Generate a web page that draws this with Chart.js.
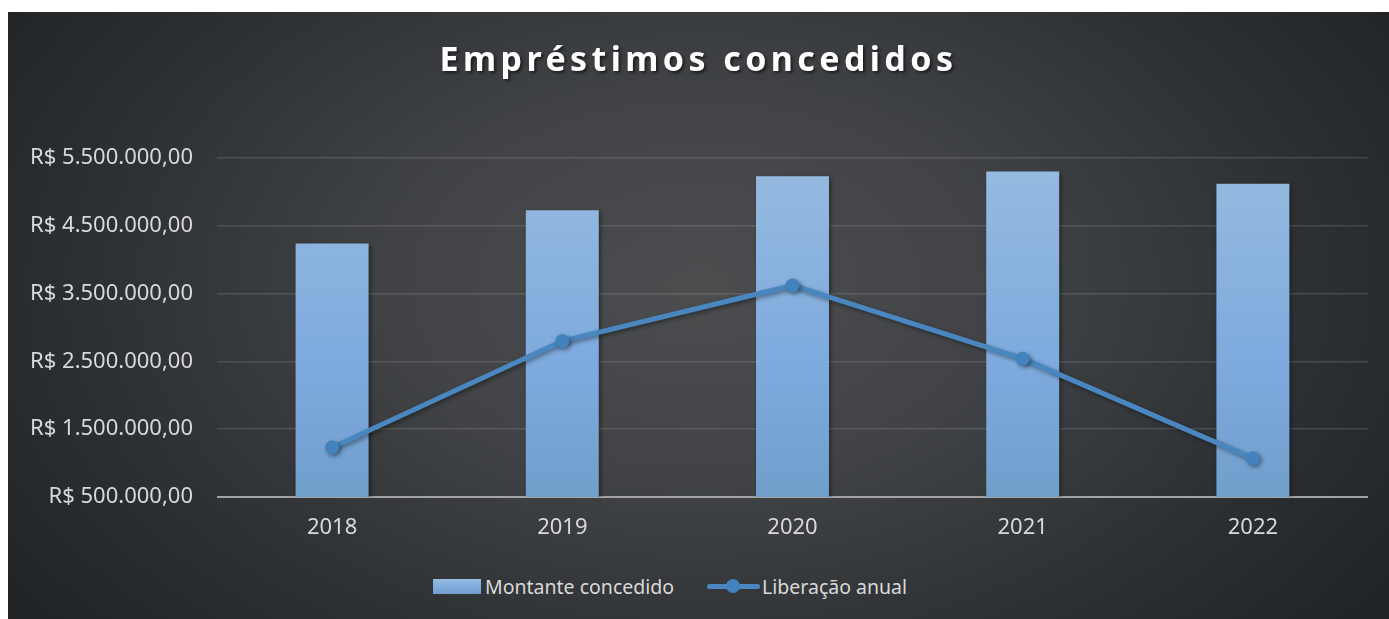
<!DOCTYPE html>
<html>
<head>
<meta charset="utf-8">
<script src="https://cdn.jsdelivr.net/npm/chart.js@4.4.1/dist/chart.umd.min.js"></script>
<style>
  html, body { margin: 0; padding: 0; background: #fff; }
  body { width: 1389px; height: 619px; overflow: hidden; position: relative; }
  #frame {
    position: absolute; left: 8px; top: 12px; width: 1381px; height: 607px;
    background: radial-gradient(ellipse 62% 90% at 50% 45%, #4b4d4f 0%, #414346 35%, #2e3134 70%, #202326 100%);
  }
  #wrap { position: absolute; left: 0; top: 0; width: 1381px; height: 560px; }
  #title {
    position: absolute; left: 0; top: 23px; width: 1381px; text-align: center;
    font: bold 34px "Noto Sans", "Open Sans", sans-serif; letter-spacing: 4.4px;
    color: #fff; text-shadow: 2px 2px 3px rgba(0,0,0,0.55);
  }
  #legend {
    position: absolute; top: 563px; left: 425px; height: 22px;
    display: flex; align-items: center;
    font: 19.5px "Noto Sans", "Open Sans", sans-serif; color: #d9d9d9;
  }
  #legend .item { display: flex; align-items: center; }
  #legend .box {
    width: 48px; height: 15px; margin-right: 4px;
    background: linear-gradient(#97bbe0, #7eaade 60%, #719fcb);
  }
  #legend .line { position: relative; width: 53px; height: 16px; margin-right: 2px; }
  #legend .line::before {
    content: ""; position: absolute; left: 0; right: 0; top: 5.5px; height: 5px;
    background: #4a87c0; border-radius: 3px;
  }
  #legend .line::after {
    content: ""; position: absolute; left: 19px; top: 1px; width: 14px; height: 14px;
    background: #4283bd; border-radius: 50%;
  }
</style>
</head>
<body>
<div id="frame">
  <div id="wrap"><canvas id="chart"></canvas></div>
  <div id="title">Empréstimos concedidos</div>
  <div id="legend">
    <div class="item"><span class="box"></span>Montante concedido</div>
    <div class="item" style="margin-left:33px"><span class="line"></span>Liberação anual</div>
  </div>
</div>
<script>
// ---------- data ----------
const years     = ["2018", "2019", "2020", "2021", "2022"];
const montante  = [4240000, 4730000, 5230000, 5300000, 5120000];
const liberacao = [1230000, 2800000, 3620000, 2540000, 1070000];
const yMin = 500000, yMax = 5500000, yStep = 1000000;

const fmtBRL = (v) => {
  const [int, dec] = v.toFixed(2).split(".");
  return "R$ " + int.replace(/\B(?=(\d{3})+(?!\d))/g, ".") + "," + dec;
};

const FONT = "'Noto Sans', 'Open Sans', sans-serif";
const TXT  = "#d9d9d9";

function barGradient(ctx) {
  const area = ctx.chart.chartArea;
  if (!area) return "#82acd9";
  const g = ctx.chart.ctx.createLinearGradient(0, area.top, 0, area.bottom);
  g.addColorStop(0, "#97bbe0");
  g.addColorStop(0.6, "#7eaade");
  g.addColorStop(1, "#719fcb");
  return g;
}

// soft drop shadow for marks
const shadowPlugin = {
  id: "shadow",
  beforeDatasetDraw(chart) {
    const c = chart.ctx;
    c.save();
    c.shadowColor = "rgba(0,0,0,0.4)";
    c.shadowBlur = 4;
    c.shadowOffsetX = 2;
    c.shadowOffsetY = 2;
  },
  afterDatasetDraw(chart) { chart.ctx.restore(); },
};

new Chart(document.getElementById("chart"), {
  data: {
    labels: years,
    datasets: [
      {
        type: "line", label: "Liberação anual", data: liberacao, order: 0,
        borderColor: "#4a87c0", borderWidth: 5,
        pointBackgroundColor: "#4283bd", pointBorderColor: "#4283bd", pointBorderWidth: 0,
        pointRadius: 7, pointHoverRadius: 7, tension: 0,
      },
      {
        type: "bar", label: "Montante concedido", data: montante, order: 1,
        backgroundColor: barGradient,
        categoryPercentage: 1, barPercentage: 0.317,
      },
    ],
  },
  options: {
    responsive: true, maintainAspectRatio: false, animation: false,
    layout: { padding: { left: 0, right: 21, top: 146, bottom: 0 } },
    plugins: {
      legend: { display: false },
      tooltip: { enabled: false },
    },
    scales: {
      x: {
        grid: { display: false, drawTicks: false },
        border: { display: false },
        ticks: { color: TXT, font: { family: FONT, size: 22 }, padding: 18 },
        afterFit: (s) => { s.height = 75; },
      },
      y: {
        min: yMin, max: yMax,
        border: { display: false },
        grid: {
          drawTicks: false,
          color: (c) => c.tick && c.tick.value === yMin ? "#a3a3a3" : "rgba(255,255,255,0.13)",
          lineWidth: (c) => c.tick && c.tick.value === yMin ? 2 : 1.5,
        },
        ticks: {
          stepSize: yStep, color: TXT, padding: 24,
          font: { family: FONT, size: 22 },
          callback: (v) => fmtBRL(v),
        },
        afterFit: (s) => { s.width = 209; },
      },
    },
  },
  plugins: [shadowPlugin],
});
</script>
</body>
</html>
